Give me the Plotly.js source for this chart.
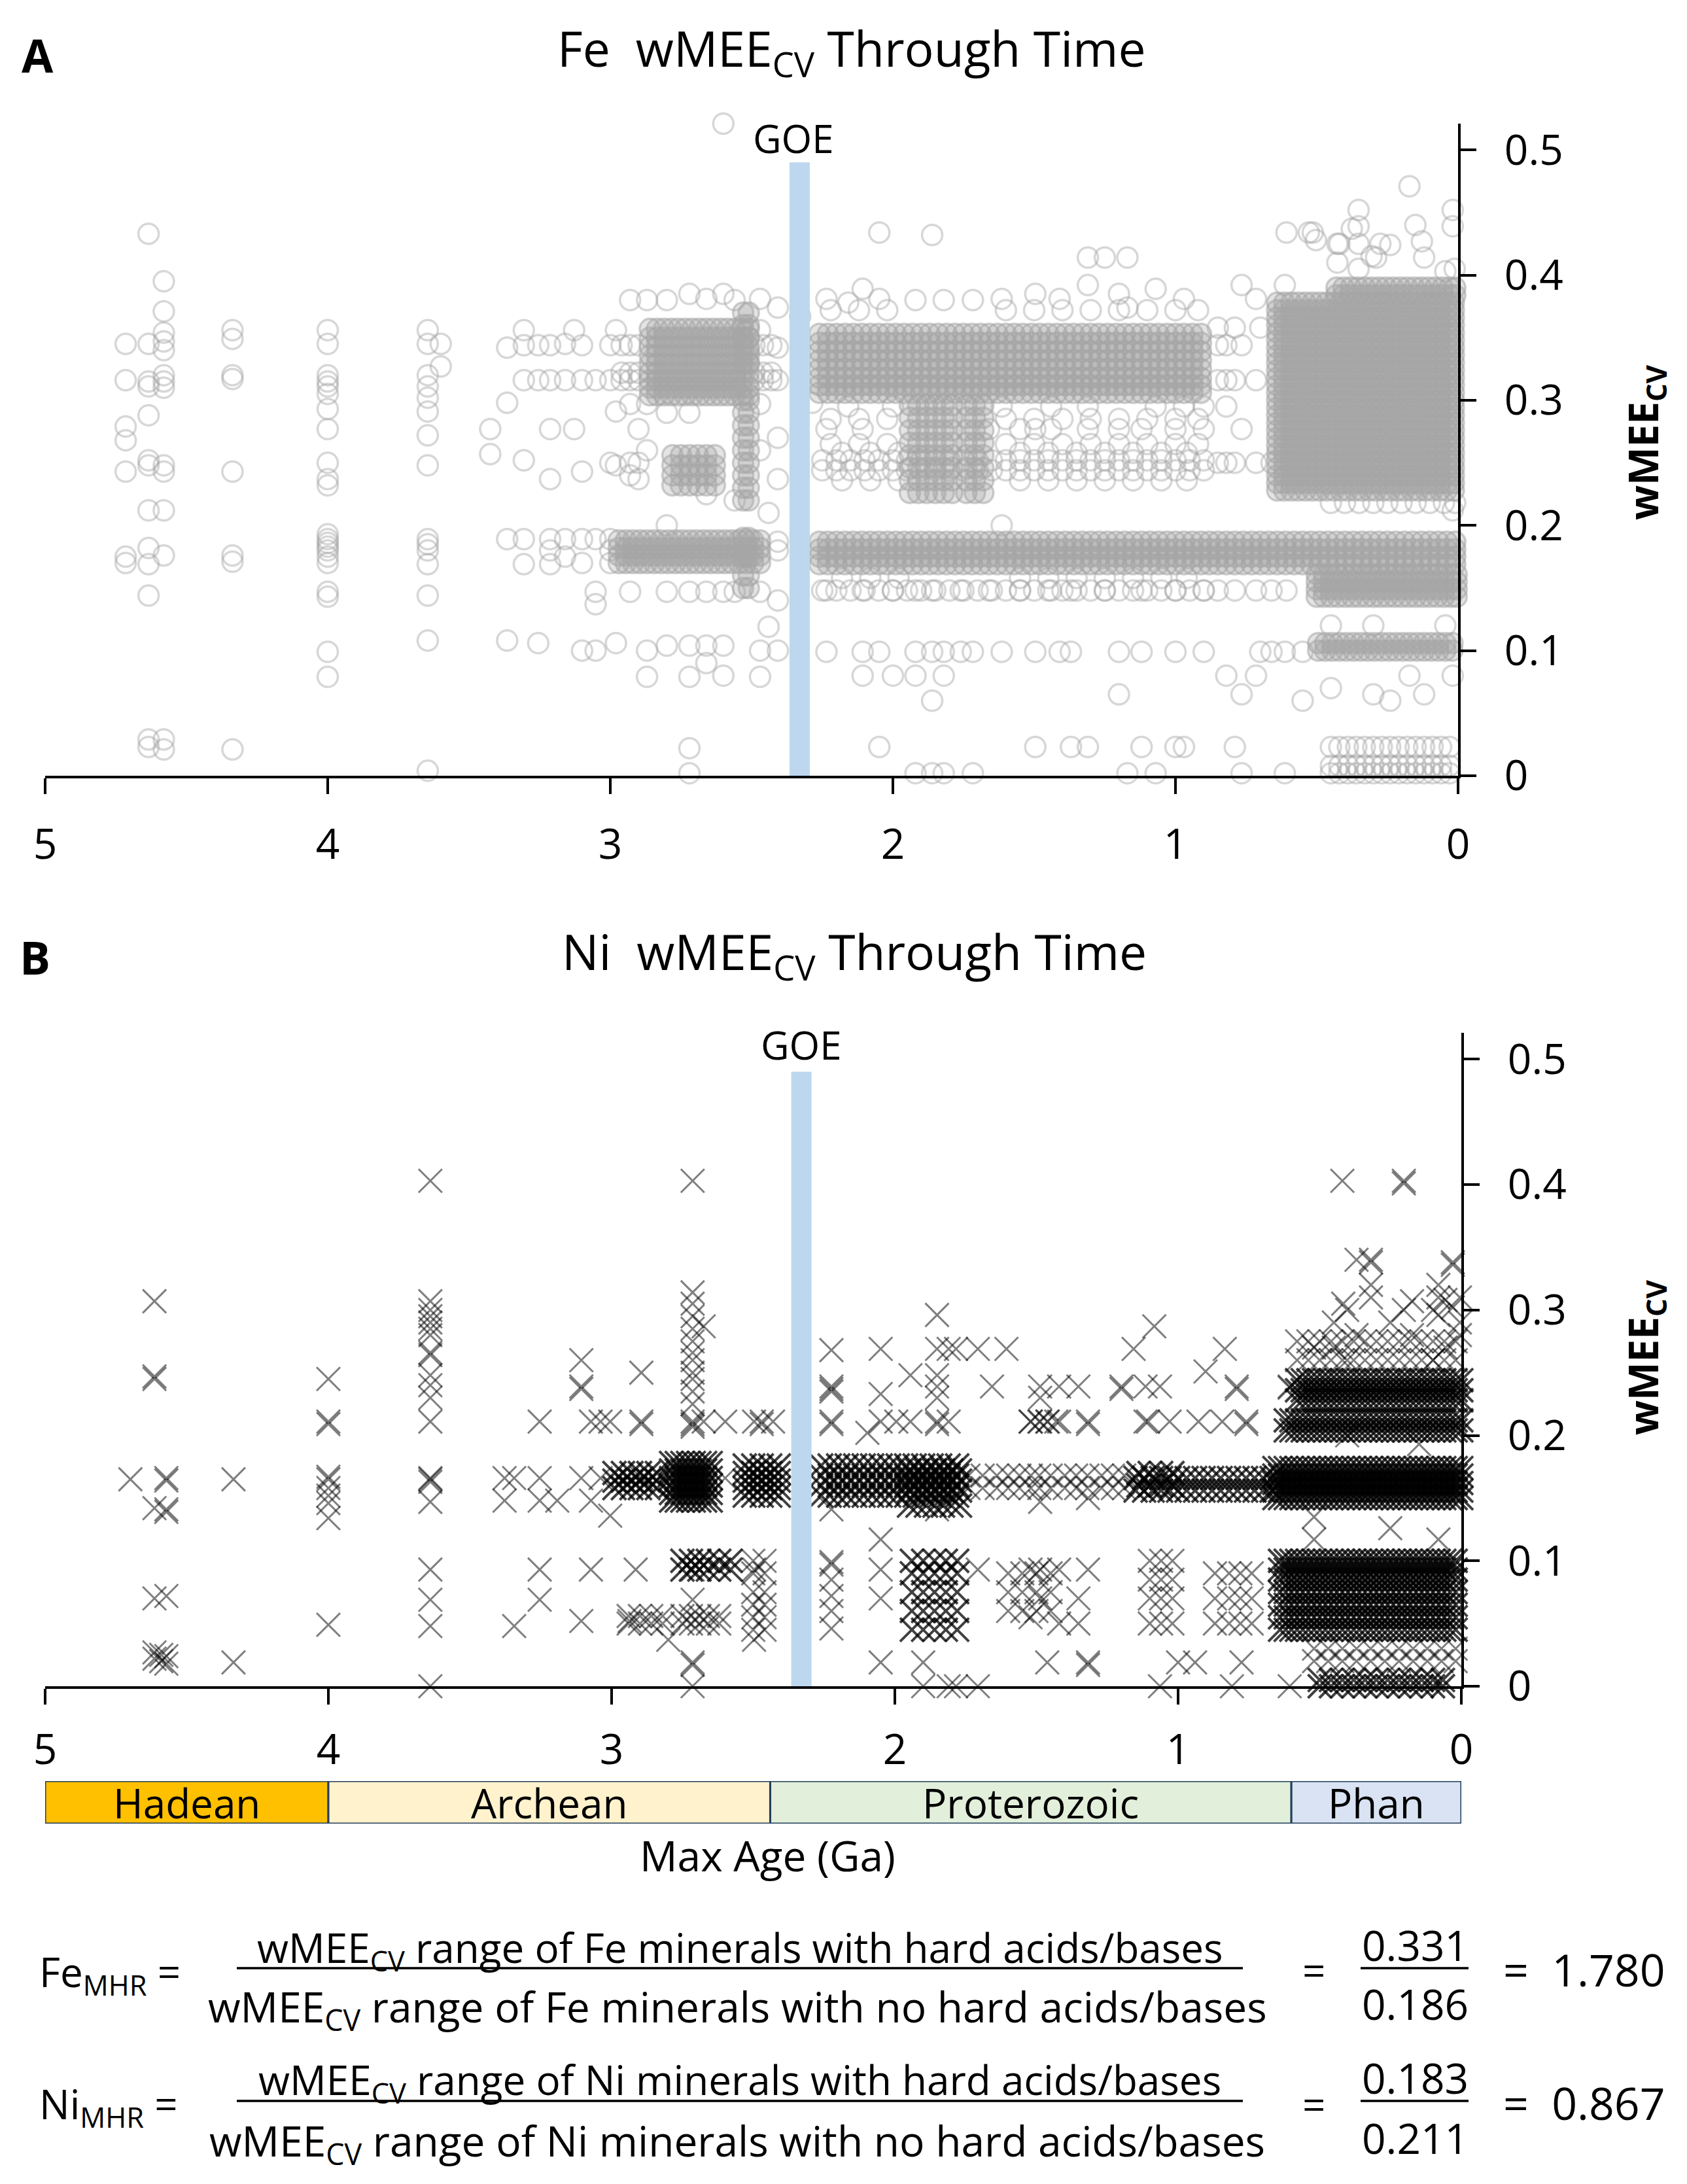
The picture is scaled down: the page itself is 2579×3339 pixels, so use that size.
<!DOCTYPE html>
<html>
<head>
<meta charset="utf-8">
<script src="https://cdn.plot.ly/plotly-3.0.1.min.js"></script>
<style>
    html, body { margin: 0; padding: 0; background: #fff; }
    #plot { width: 2579px; height: 3339px; }
</style>
</head>
<body>
<div id="plot"></div>
<script>
// Sparse columns: [age (Ga), wMEE values...]
const feColumns = [
    [4.715, .345, .316, .279, .268, .243, .175, .17],
    [4.634, .433, .345, .315, .311, .288, .252, .248, .212, .182, .169, .144, .029, .023],
    [4.58, .395, .371, .354, .347, .34, .32, .315, .31, .248, .243, .212, .176, .029, .021],
    [4.337, .356, .349, .32, .317, .243, .176, .171, .021],
    [4.0, .356, .345, .32, .315, .311, .305, .293, .277, .25, .237, .232, .193, .189, .186, .183, .18, .175, .17, .147, .143, .099, .079],
    [3.646, .356, .345, .32, .311, .302, .291, .272, .248, .189, .185, .18, .169, .144, .108, .004],
    [3.6, .345, .327],
    [3.425, .277, .257],
    [3.365, .342, .298, .189, .108],
    [3.306, .356, .344, .316, .252, .189, .169],
    [3.255, .344, .316, .106],
    [3.213, .344, .316, .277, .237, .189, .18, .169],
    [3.16, .345, .316, .189, .175],
    [3.128, .356, .277],
    [3.1, .344, .316, .243, .189, .17, .1],
    [3.052, .316, .189, .147, .137, .1],
    [3.0, .344, .316, .25, .189, .18, .17],
    [2.98, .356, .291, .248, .106],
    [2.93, .38, .297, .25, .24, .147],
    [2.9, .277, .25, .237],
    [2.87, .38, .297, .26, .1, .079],
    [2.8, .38, .29, .2, .147, .104],
    [2.72, .385, .29, .147, .104, .079, .022, .002],
    [2.66, .381, .225, .147, .104, .09],
    [2.6, .521, .385, .147, .104, .08],
    [2.56, .38, .22, .147],
    [2.47, .381, .356, .297, .26, .147, .1, .079],
    [2.44, .21, .119],
    [2.407, .374, .342, .316, .27, .237, .187, .18, .14, .1],
    [2.328, .367],
    [2.285, .298],
    [2.235, .381, .277, .148, .099],
    [2.158, .378, .295],
    [2.107, .389, .277, .148, .099, .08],
    [2.048, .434, .381, .099, .023],
    [2.0, .295, .148, .08],
    [1.92, .38, .148, .099, .08, .002],
    [1.861, .432, .148, .099, .06, .002],
    [1.82, .38, .099, .08, .002],
    [1.76, .148, .099],
    [1.717, .38, .099, .002],
    [1.66, .277, .148],
    [1.615, .381, .295, .2, .099],
    [1.55, .277, .148],
    [1.496, .385, .277, .099, .023],
    [1.44, .295, .277, .148],
    [1.41, .381, .099],
    [1.37, .148, .099, .023],
    [1.31, .414, .392, .295, .277, .023],
    [1.25, .414, .148],
    [1.2, .385, .277, .099, .065],
    [1.17, .414, .374, .002],
    [1.12, .277, .148, .099, .023],
    [1.07, .389, .295, .002],
    [1.0, .277, .148, .099, .023],
    [.97, .381, .295, .023],
    [.9, .295, .277, .148, .099],
    [.85, .358, .344, .316, .25, .148],
    [.82, .344, .316, .295, .25, .08],
    [.79, .358, .316, .25, .148, .023],
    [.766, .392, .344, .277, .065, .002],
    [.715, .381, .316, .25, .148, .08],
    [.7, .358, .099],
    [.66, .25, .148, .099],
    [.613, .392, .099, .002],
    [.607, .434, .148],
    [.55, .099, .06],
    [.528, .434],
    [.514, .434],
    [.503, .428],
    [.45, .12, .07],
    [.427, .425, .41],
    [.42, .425],
    [.376, .437],
    [.352, .452, .439, .425, .405],
    [.306, .415],
    [.3, .12, .065],
    [.29, .414],
    [.275, .425],
    [.24, .424, .06],
    [.172, .471, .08],
    [.151, .44],
    [.128, .427],
    [.12, .414, .065],
    [.045, .403, .12],
    [.019, .452, .439, .212, .08],
    [.012, .405],
];

// Clusters: [ages], [values] (a point at every age for every value)
const fePostGoeAges = [2.26, 2.23, 2.2, 2.17, 2.14, 2.11, 2.08, 2.05, 2.02, 1.99, 1.96, 1.93, 1.9, 1.87, 1.84, 1.81, 1.78, 1.75, 1.72, 1.69, 1.66, 1.63, 1.6, 1.57, 1.54, 1.51, 1.48, 1.45, 1.42, 1.39, 1.36, 1.33, 1.3, 1.27, 1.24, 1.21, 1.18, 1.15, 1.12, 1.09, 1.06, 1.03, 1, .97, .94, .91, .88, .85, .82, .79, .76, .73, .7, .67, .64, .61, .58, .55, .52, .49, .46, .43, .4, .37, .34, .31, .28, .25, .22, .19, .16, .13, .1, .07, .04, .01];
const feProterozoicRowAges = [2.25, 2.2, 2.15, 2.1, 2.05, 2, 1.95, 1.9, 1.85, 1.8, 1.75, 1.7, 1.65, 1.6, 1.55, 1.5, 1.45, 1.4, 1.35, 1.3, 1.25, 1.2, 1.15, 1.1, 1.05, 1, .95, .9];
const feArcheanAges = [2.97, 2.945, 2.92, 2.895, 2.87, 2.845, 2.82, 2.795, 2.77, 2.745, 2.72, 2.695, 2.67, 2.645, 2.62, 2.595, 2.57, 2.545, 2.52, 2.495, 2.47];
const fePhanAges = [.64, .615, .59, .565, .54, .515, .49, .465, .44, .415, .39, .365, .34, .315, .29, .265, .24, .215, .19, .165, .14, .115, .09, .065, .04, .015];
const fePhanValues = [.228, .234, .24, .246, .252, .258, .264, .27, .276, .282, .288, .294, .3, .306, .312, .318, .324, .33, .336, .342, .348, .354, .36, .366, .372, .378];

// Packed clusters that merge into solid grey
const feSolidBlocks = [
    [feArcheanAges, [.17, .176, .182, .188]],
    [[2.86, 2.835, 2.81, 2.785, 2.76, 2.735, 2.71, 2.685, 2.66, 2.635, 2.61, 2.585, 2.56, 2.535, 2.51], [.304, .31, .316, .322, .329, .336, .343, .35, .357]],
    [[2.78, 2.75, 2.72, 2.69, 2.66, 2.63], [.232, .24, .248, .256]],
    [[2.53, 2.51], [.37, .36, .35, .34, .33, .3, .29, .28, .27, .26, .25, .24, .23, .22, .19, .175, .16, .15]],
    [fePostGoeAges, [.169, .175, .181, .187]],
    [fePostGoeAges.filter(age => age > .88), [.306, .312, .318, .325, .332, .339, .346, .353]],
    [[1.94, 1.91, 1.88, 1.85, 1.82, 1.79, 1.74, 1.71, 1.68], [.226, .236, .246, .256, .266, .276, .286, .296]],
    [fePhanAges, fePhanValues],
    [[.43, .405, .38, .355, .33, .305, .28, .255, .23, .205, .18, .155, .13, .105, .08, .055, .03, .01], [.384, .39]],
    [[.5, .475, .45, .425, .4, .375, .35, .325, .3, .275, .25, .225, .2, .175, .15, .125, .1, .075, .05, .025, .005], [.143, .149, .155, .161]],
    [[.495, .47, .445, .42, .395, .37, .345, .32, .295, .27, .245, .22, .195, .17, .145, .12, .095, .07, .045, .02], [.1, .106]],
];

// Looser clusters where single rings stay visible
const feRingBlocks = [
    [[2.96, 2.93, 2.9, 2.49, 2.46, 2.43], [.316, .322, .344]],
    [feProterozoicRowAges, [.148, .244, .252]],
    [[2.22, 2.12, 2.02, 1.6, 1.5, 1.4, 1.3, 1.2, 1.1, 1.0, .92], [.265, .285, .372]],
    [[2.18, 2.08, 1.98, 1.55, 1.45, 1.35, 1.25, 1.15, 1.05, .96], [.236, .258, .158]],
    [[.45, .4, .35, .3, .25, .2, .15, .1, .05, .01], [.218]],
    [[.45, .42, .39, .36, .33, .3, .27, .24, .21, .18, .15, .12, .09, .06, .03], [.002, .008, .023]],
];

const niColumns = [
    [4.699, .165],
    [4.614, .307, .247, .245, .142, .07, .027, .022],
    [4.59, .025, .02],
    [4.572, .166, .164, .141, .139, .072, .024, .018],
    [4.335, .165, .019],
    [4.0, .245, .211, .209, .167, .165, .158, .152, .146, .134, .049],
    [3.64, .403, .307, .3, .295, .29, .285, .28, .266, .264, .248, .24, .23, .211, .166, .165, .163, .147, .093, .069, .048, 0],
    [3.378, .166, .148],
    [3.344, .166, .048],
    [3.254, .211, .166, .148, .093, .069],
    [3.192, .148],
    [3.107, .26, .239, .237, .166, .052],
    [3.073, .211, .148, .093],
    [3.039, .211, .166],
    [3.005, .211, .136],
    [2.937, .052],
    [2.915, .093],
    [2.895, .25, .211, .209, .166],
    [2.8, .037],
    [2.714, .403, .314, .305, .295, .285, .275, .266, .26, .25, .245, .235, .225, .211, .209, .207, .093, .069, .019, .017, 0],
    [2.675, .287, .211],
    [2.599, .211, .166],
    [2.497, .211, .093, .037],
    [2.47, .211, .209],
    [2.43, .211],
    [2.224, .268, .239, .237, .235, .211, .209, .141, .099, .097, .085, .072, .06, .046],
    [2.097, .202],
    [2.05, .269, .233, .211, .117, .093, .07, .019],
    [1.995, .211],
    [1.945, .248, .211],
    [1.9, .019, 0],
    [1.851, .296, .269, .248, .239, .23, .211, .209, .141],
    [1.81, .269, .211, 0],
    [1.784, .269, 0],
    [1.707, .269, .093, 0],
    [1.657, .239],
    [1.606, .269],
    [1.521, .211, .093, .055],
    [1.487, .239, .23, .211, .147, .093, .07],
    [1.462, .211, .019],
    [1.42, .239, .211, .093, .05],
    [1.352, .239, .07, .05],
    [1.318, .211, .209, .15, .093, .019, .017],
    [1.2, .239, .237],
    [1.157, .269],
    [1.115, .239, .211],
    [1.106, .211],
    [1.084, .287],
    [1.064, .239, 0],
    [1.03, .211],
    [1.0, .019],
    [.94, .019],
    [.928, .211],
    [.903, .251],
    [.844, .211],
    [.835, .269],
    [.81, 0],
    [.793, .239, .237],
    [.776, .019],
    [.759, .211, .209],
    [.606, .239, .238, 0],
    [.52, .27, .135, .117],
    [.45, .29, .27],
    [.42, .403],
    [.417, .305],
    [.403, .3, .26, .2],
    [.37, .34, .28],
    [.319, .34, .338, .32, .31],
    [.251, .29, .126],
    [.203, .403, .401, .3],
    [.174, .307, .28],
    [.149, .193],
    [.1, .3, .26],
    [.081, .32, .31, .296, .117],
    [.056, .308, .27],
    [.03, .338, .336, .302],
    [.005, .31, .29, .28],
];

const niPhanAges = [.66, .64, .62, .6, .58, .56, .54, .52, .5, .48, .46, .44, .42, .4, .38, .36, .34, .32, .3, .28, .26, .24, .22, .2, .18, .16, .14, .12, .1, .08, .06, .04, .02, 0];

// Heavily overplotted clusters (near black)
const niDenseBlocks = [
    [[2.99, 2.96, 2.93, 2.9, 2.87, 2.84], [.158, .164, .17]],
    [[2.79, 2.77, 2.75, 2.73, 2.71, 2.69, 2.67, 2.65], [.148, .154, .16, .166, .172, .178]],
    [[2.53, 2.5, 2.47, 2.44, 2.41], [.152, .158, .164, .17, .176]],
    [[2.75, 2.72, 2.69, 2.66, 2.62, 2.58], [.093, .1]],
    [[2.26, 2.23, 2.2, 2.17, 2.14, 2.11, 2.08, 2.05, 2.02, 1.99, 1.96, 1.93, 1.9, 1.87, 1.84, 1.81, 1.78], [.152, .16, .168, .176]],
    [[1.95, 1.92, 1.89, 1.86, 1.83, 1.8, 1.77], [.144, .156, .164, .172]],
    [[1.15, 1.12, 1.09, 1.06, 1.03, 1, .97, .94, .91, .88, .85, .82, .79, .76, .73, .7, .67], [.156, .166]],
    [[1.14, 1.1, 1.06, 1.02], [.16, .17]],
    [niPhanAges, [.15, .156, .162, .168, .174]],
    [niPhanAges.filter(age => age < .6), [.228, .236, .244]],
    [niPhanAges.filter(age => age < .63), [.204, .212]],
    [niPhanAges.filter(age => age < .65 && age > 0), [.045, .055, .065, .075, .085, .093, .1]],
    [[.5, .46, .42, .38, .34, .3, .26, .22, .18, .14, .1, .065], [0, .005]],
    [[1.94, 1.9, 1.86, 1.82, 1.78], [.045, .06, .075, .09, .1]],
];

// Looser clusters where single crosses stay grey
const niLooseBlocks = [
    [[2.94, 2.9, 2.86, 2.82, 2.75, 2.72, 2.69, 2.66, 2.62], [.05, .056]],
    [[2.5, 2.46], [.045, .055, .065, .075, .09, .1]],
    [[1.74, 1.69, 1.64, 1.6, 1.56, 1.52, 1.49, 1.45, 1.4, 1.36, 1.32, 1.27, 1.23, 1.19], [.158, .168]],
    [[.52, .47, .42, .37, .32, .27, .22, .17, .12, .07, .02], [.02, .03]],
    [[1.1, 1.06, 1.02], [.05, .07, .085, .1]],
    [[.87, .82, .78, .74], [.05, .07, .09]],
    [[.58, .54, .5, .46, .42, .38, .34, .3, .26, .22, .18, .14, .1, .06, .02], [.26, .275]],
    [[1.6, 1.55, 1.5, 1.45], [.06, .075, .09]],
    [[1.52, 1.49, 1.46, 1.43], [.211]],
];

// Great Oxidation Event marker
const goeAge = 2.33;
const goeTop = .49;

// Geologic eons under panel B
const eraNames = ['Hadean', 'Archean', 'Proterozoic', 'Phan'];
const eraOld = [5, 4, 2.44, .6];
const eraYoung = [4, 2.44, .6, 0];
const eraColors = ['#FFC000', '#FFF2CC', '#E2EFDA', '#DAE3F3'];

const W = 2579;
const H = 3339;
const FONT = 'Open Sans, Lato, sans-serif';
const px = x => x / W;
const py = y => 1 - y / H;

function fromColumns(columns) {
    const x = [];
    const y = [];

    columns.forEach(([age, ...values]) => values.forEach(value => {
        x.push(age);
        y.push(value);
    }));

    return { x, y };
}

function fromBlocks(blocks) {
    const x = [];
    const y = [];

    blocks.forEach(([ages, values]) => ages.forEach(age => values.forEach(value => {
        x.push(age);
        y.push(value);
    })));

    return { x, y };
}

const points = ({ x, y }, xaxis, yaxis, marker) => ({
    type: 'scatter',
    mode: 'markers',
    x,
    y,
    xaxis,
    yaxis,
    marker,
    hoverinfo: 'skip',
    cliponaxis: false,
});

const goeLine = (xaxis, yaxis) => ({
    type: 'scatter',
    mode: 'lines',
    x: [goeAge, goeAge],
    y: [0, goeTop],
    xaxis,
    yaxis,
    line: { color: '#BDD7EE', width: 31 },
    hoverinfo: 'skip',
    cliponaxis: false,
});

const ring = { symbol: 'circle-open', size: 31, color: 'rgba(160,160,160,0.42)', line: { width: 3.5 } };
const cross = { symbol: 'x-thin-open', size: 36, color: 'rgba(0,0,0,0.5)', line: { width: 3 } };

const data = [
    points(fromColumns(feColumns), 'x', 'y', ring),
    points(fromBlocks(feRingBlocks), 'x', 'y', ring),
    points(fromBlocks(feSolidBlocks), 'x', 'y', {
        symbol: 'circle',
        size: 31,
        color: 'rgba(166,166,166,0.3)',
        line: { color: 'rgba(166,166,166,0.55)', width: 3.5 },
    }),
    goeLine('x', 'y'),
    points(fromColumns(niColumns), 'x2', 'y2', cross),
    points(fromBlocks(niLooseBlocks), 'x2', 'y2', cross),
    points(fromBlocks(niDenseBlocks), 'x2', 'y2', { symbol: 'x-thin-open', size: 36, color: 'rgba(0,0,0,0.75)', line: { width: 4 } }),
    goeLine('x2', 'y2'),
    {
        type: 'bar',
        orientation: 'h',
        y: eraNames.map(() => 0),
        x: eraOld.map((old, i) => old - eraYoung[i]),
        base: eraYoung,
        width: 1,
        xaxis: 'x3',
        yaxis: 'y3',
        marker: { color: eraColors, line: { color: '#243F5C', width: 3 } },
        hoverinfo: 'skip',
    },
];

const axisFont = { family: FONT, size: 64, color: '#000' };
const xAxisBase = {
    range: [5, 0],
    dtick: 1,
    tick0: 0,
    showgrid: false,
    zeroline: false,
    showline: true,
    linecolor: '#000',
    linewidth: 4,
    ticks: 'outside',
    ticklen: 24,
    tickwidth: 4,
    tickcolor: '#000',
    tickfont: axisFont,
    fixedrange: true,
};
const yAxisBase = {
    range: [0, .521],
    dtick: .1,
    tick0: 0,
    side: 'right',
    showgrid: false,
    zeroline: false,
    showline: true,
    linecolor: '#000',
    linewidth: 4,
    ticks: 'outside',
    ticklen: 24,
    tickwidth: 4,
    tickcolor: '#000',
    tickfont: axisFont,
    ticklabelstandoff: 30,
    fixedrange: true,
};

function text(x, y, str, size, extra = {}) {
    return {
        xref: 'paper',
        yref: 'paper',
        x: px(x),
        y: py(y),
        text: str,
        showarrow: false,
        xanchor: 'center',
        yanchor: 'middle',
        font: { family: FONT, size, color: '#000' },
        ...extra,
    };
}

const wmee = 'wMEE<sub>CV</sub>';
const annotations = [
    text(57, 84, '<b>A</b>', 70),
    text(54, 1463, '<b>B</b>', 70),
    text(1302, 78, `Fe  ${wmee} Through Time`, 75),
    text(1306, 1458, `Ni  ${wmee} Through Time`, 75),
    text(1213, 211, 'GOE', 60),
    text(1225, 1597, 'GOE', 60),
    text(2515, 676, `<b>${wmee}</b>`, 62, { textangle: -90 }),
    text(2515, 2075, `<b>${wmee}</b>`, 62, { textangle: -90 }),
    text(1173, 2836, 'Max Age (Ga)', 64),
    ...eraNames.map((name, i) => ({
        xref: 'x3',
        yref: 'y3',
        x: (eraOld[i] + eraYoung[i]) / 2,
        y: 0,
        text: name,
        showarrow: false,
        font: { family: FONT, size: 62, color: '#000' },
    })),
    text(58, 3018, 'Fe<sub>MHR</sub> =', 62, { xanchor: 'left' }),
    text(1131, 2981, `${wmee} range of Fe minerals with hard acids/bases`, 62),
    text(1127, 3071, `${wmee} range of Fe minerals with no hard acids/bases`, 64),
    text(2008, 3012, '=', 62),
    text(2163, 2973, '0.331', 64),
    text(2163, 3063, '0.186', 64),
    text(2422, 3010, '= \u00a01.780', 68),
    text(58, 3220, 'Ni<sub>MHR</sub> =', 62, { xanchor: 'left' }),
    text(1131, 3183, `${wmee} range of Ni minerals with hard acids/bases`, 62),
    text(1127, 3276, `${wmee} range of Ni minerals with no hard acids/bases`, 64),
    text(2008, 3217, '=', 62),
    text(2163, 3176, '0.183', 64),
    text(2163, 3268, '0.211', 64),
    text(2422, 3214, '= \u00a00.867', 68),
];

const rule = (x0, x1, y) => ({
    type: 'line',
    xref: 'paper',
    yref: 'paper',
    x0: px(x0),
    x1: px(x1),
    y0: py(y),
    y1: py(y),
    line: { color: '#000', width: 3.5 },
});

const layout = {
    width: W,
    height: H,
    margin: { l: 0, r: 0, t: 0, b: 0 },
    paper_bgcolor: '#fff',
    plot_bgcolor: 'rgba(0,0,0,0)',
    showlegend: false,
    font: { family: FONT, color: '#000' },
    xaxis: { ...xAxisBase, domain: [px(69), px(2229)], anchor: 'y', ticklabelstandoff: 22 },
    yaxis: { ...yAxisBase, domain: [py(1186), py(189)], anchor: 'x' },
    xaxis2: { ...xAxisBase, domain: [px(69), px(2234)], anchor: 'y2', ticklabelstandoff: 14 },
    yaxis2: { ...yAxisBase, domain: [py(2578), py(1579)], anchor: 'x2' },
    xaxis3: { range: [5, 0], domain: [px(69), px(2234)], anchor: 'y3', visible: false, fixedrange: true },
    yaxis3: { range: [-.5, .5], domain: [py(2788), py(2723)], anchor: 'x3', visible: false, fixedrange: true },
    annotations,
    shapes: [
        rule(362, 1900, 3009),
        rule(2080, 2245, 3009),
        rule(362, 1900, 3212),
        rule(2080, 2245, 3212),
    ],
};

Plotly.newPlot('plot', data, layout, { staticPlot: true, displayModeBar: false });
</script>
</body>
</html>
